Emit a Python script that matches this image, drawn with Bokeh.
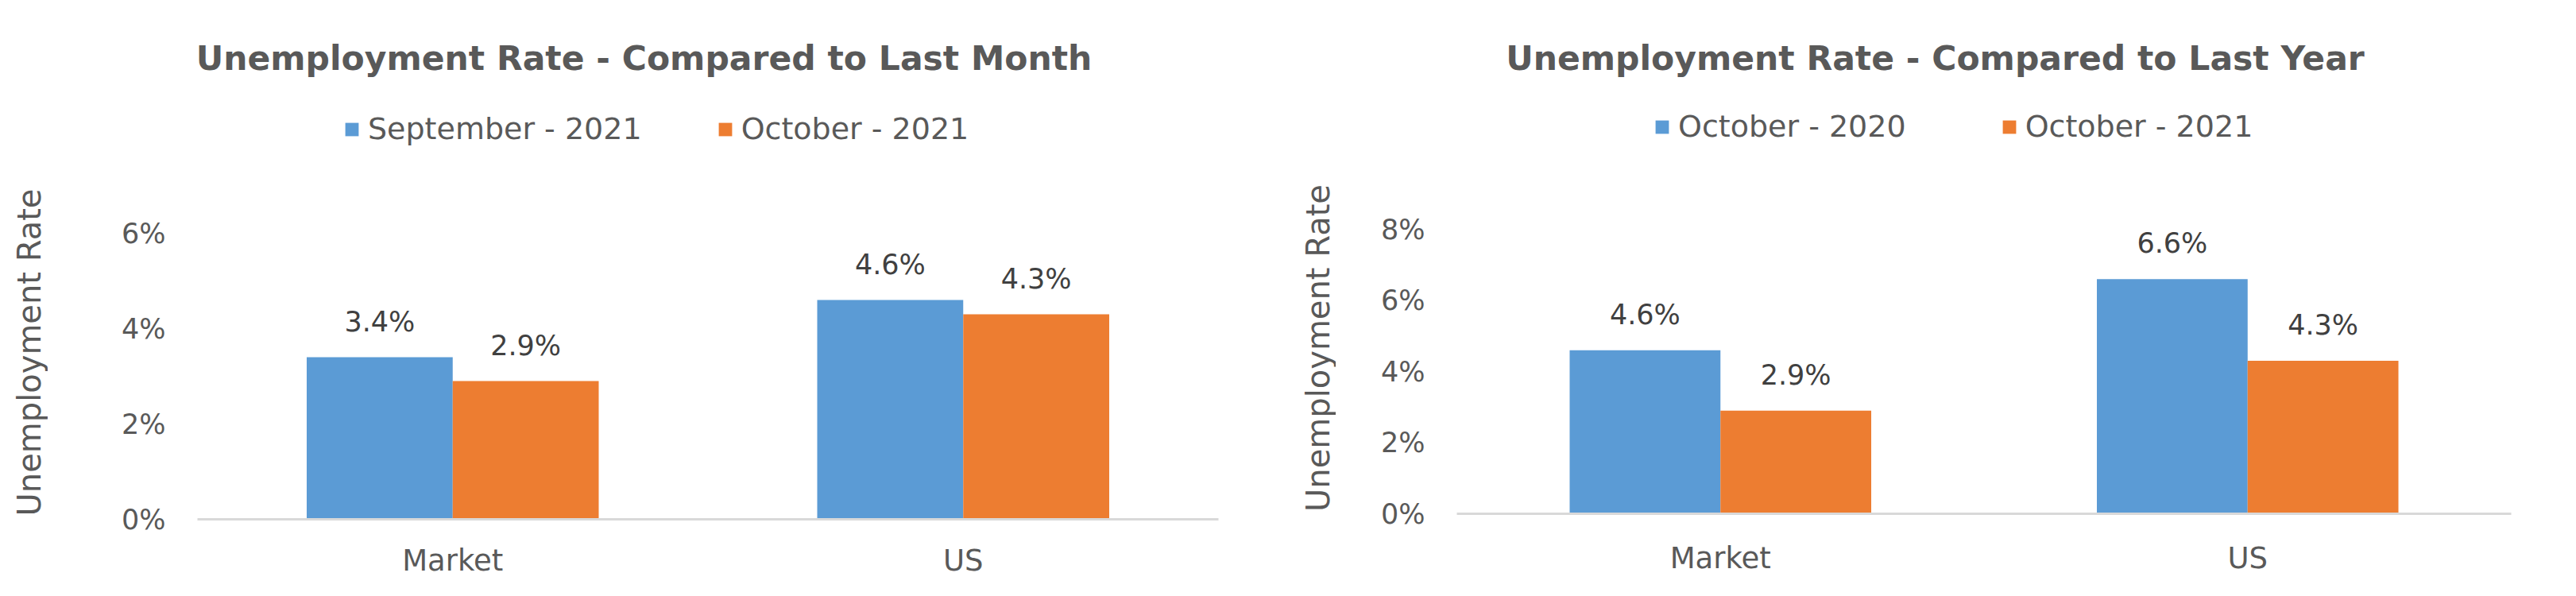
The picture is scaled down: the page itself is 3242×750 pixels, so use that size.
import math
from bokeh.plotting import figure
from bokeh.models import ColumnDataSource, FactorRange, Range1d, FixedTicker, Legend, LegendItem, Label
from bokeh.transform import dodge
from bokeh.layouts import row
from bokeh.embed import file_html
from bokeh.resources import INLINE
from bokeh.core.properties import value

# ---------------- data ----------------
categories = ["Market", "US"]
y_axis_title = "Unemployment Rate"

month_title = "Unemployment Rate - Compared to Last Month"
month_series = ["September - 2021", "October - 2021"]
month_prev = [3.4, 4.6]
month_curr = [2.9, 4.3]
month_ticks = [0, 2, 4, 6]
month_tick_labels = ["0%", "2%", "4%", "6%"]

year_title = "Unemployment Rate - Compared to Last Year"
year_series = ["October - 2020", "October - 2021"]
year_prev = [4.6, 6.6]
year_curr = [2.9, 4.3]
year_ticks = [0, 2, 4, 6, 8]
year_tick_labels = ["0%", "2%", "4%", "6%", "8%"]

BLUE = "#5B9BD5"
ORANGE = "#ED7D31"
FONT = "DejaVu Sans"
GREY = "#595959"
DARK = "#404040"
HEIGHT = 742
LABEL_W = 60
STRIP_FRAME_BOTTOM = 646   # the strips' frames get aligned to the charts' bottom border


def make_axis_title(xy):
    """Narrow strip that carries the vertical y-axis title."""
    p = figure(width=LABEL_W, height=HEIGHT, x_range=Range1d(0, 1), y_range=Range1d(0, 1),
               x_axis_type=None, y_axis_type=None,
               min_border_left=0, min_border_right=0, min_border_top=0, min_border_bottom=0,
               toolbar_location=None, output_backend="svg",
               background_fill_color="white", border_fill_color="white",
               outline_line_color=None, title=None)
    p.xgrid.visible = False
    p.ygrid.visible = False
    p.add_layout(Label(x=xy[0], y=xy[1], x_units="screen", y_units="screen",
                       angle=math.pi / 2, text=y_axis_title,
                       text_align="center", text_baseline="middle",
                       text_font=FONT, text_font_size="40px", text_color=GREY))
    return p


def make_chart(title, series, prev, curr, ticks, tick_labels, ymax,
               frame_w, frame_h, b_left, b_right, b_bottom, x_standoff,
               title_xy, legend_xy, legend_spacing):
    src = ColumnDataSource(dict(
        cat=categories, prev=prev, curr=curr,
        prev_lbl=[f"{v:.1f}%" for v in prev],
        curr_lbl=[f"{v:.1f}%" for v in curr],
    ))
    p = figure(x_range=FactorRange(factors=categories, range_padding=0),
               y_range=Range1d(0, ymax),
               frame_width=frame_w, frame_height=frame_h,
               min_border_left=b_left, min_border_right=b_right,
               min_border_top=0, min_border_bottom=b_bottom,
               toolbar_location=None, output_backend="svg",
               background_fill_color="white", border_fill_color="white",
               outline_line_color=None, title=None)

    w = 0.286
    off = w / 2
    r1 = p.vbar(x=dodge("cat", -off, range=p.x_range), top="prev", width=w,
                source=src, fill_color=BLUE, line_color=None)
    r2 = p.vbar(x=dodge("cat", off, range=p.x_range), top="curr", width=w,
                source=src, fill_color=ORANGE, line_color=None)

    for xoff, col, lbl in ((-off, "prev", "prev_lbl"), (off, "curr", "curr_lbl")):
        p.text(x=dodge("cat", xoff, range=p.x_range), y=col, text=lbl, source=src,
               text_align="center", text_baseline="alphabetic", y_offset=-45,
               text_font=value(FONT), text_font_size="35px", text_color=DARK)

    p.xgrid.grid_line_color = None
    p.ygrid.grid_line_color = None

    xa = p.xaxis[0]
    xa.axis_line_color = "#D9D9D9"
    xa.axis_line_width = 3
    xa.major_tick_line_color = None
    xa.minor_tick_line_color = None
    xa.major_label_text_font = FONT
    xa.major_label_text_font_size = "37px"
    xa.major_label_text_color = GREY
    xa.major_label_standoff = x_standoff

    ya = p.yaxis[0]
    ya.ticker = FixedTicker(ticks=ticks)
    ya.major_label_overrides = dict(zip(ticks, tick_labels))
    ya.axis_line_color = None
    ya.major_tick_line_color = None
    ya.minor_tick_line_color = None
    ya.major_tick_out = 0
    ya.major_label_standoff = 40
    ya.major_label_text_font = FONT
    ya.major_label_text_font_size = "35px"
    ya.major_label_text_color = GREY

    p.add_layout(Label(x=title_xy[0], y=title_xy[1], x_units="screen", y_units="screen",
                       text=title, text_align="center", text_baseline="alphabetic",
                       text_font=FONT, text_font_style="bold", text_font_size="42.5px",
                       text_color=GREY))

    legend = Legend(items=[LegendItem(label=series[0], renderers=[r1]),
                           LegendItem(label=series[1], renderers=[r2])],
                    orientation="horizontal", location=legend_xy,
                    padding=0, margin=0, spacing=legend_spacing,
                    glyph_width=21, glyph_height=21, label_standoff=10,
                    label_text_font=FONT, label_text_font_size="38px",
                    label_text_color=GREY, border_line_color=None,
                    background_fill_alpha=0)
    p.add_layout(legend)
    return p


# left chart: 60 px per percent point, frame reaches the top of the figure
left_label = make_axis_title((36, STRIP_FRAME_BOTTOM - 443))
left = make_chart(month_title, month_series, month_prev, month_curr,
                  month_ticks, month_tick_labels, 653 / 60.0,
                  1285, 653, 248 - LABEL_W, 88, HEIGHT - 653, 24,
                  (562, 580), (184, 469), 94)
# right chart: 44.75 px per percent point
right_label = make_axis_title((37, STRIP_FRAME_BOTTOM - 437.5))
right = make_chart(year_title, year_series, year_prev, year_curr,
                   year_ticks, year_tick_labels, 646 / 44.75,
                   1327, 646, 212 - LABEL_W, 74, HEIGHT - 646, 28,
                   (602, 573), (248, 465), 119)

layout = row(left_label, left, right_label, right)
open("out.html", "w").write(file_html(layout, INLINE))
